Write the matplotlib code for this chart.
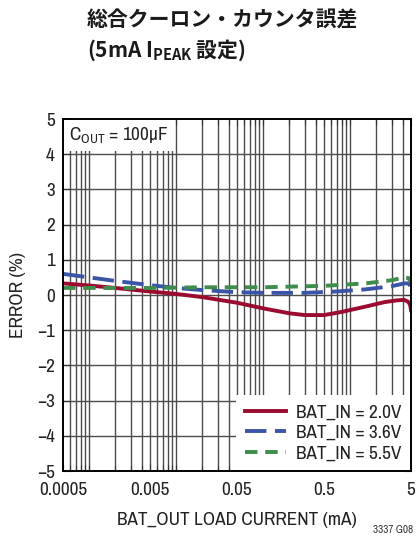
import matplotlib
matplotlib.use("Agg")
import matplotlib.pyplot as plt
from matplotlib import font_manager
from matplotlib.ticker import FixedLocator, NullFormatter, NullLocator

# ---- data ----
x_red = [0.0005, 0.001, 0.002, 0.005, 0.01, 0.02, 0.05, 0.1, 0.2, 0.3, 0.5, 0.8, 1.5, 2.5, 3.5, 4.2, 4.7, 4.9, 5.0]
y_red = [0.33, 0.27, 0.2, 0.1, 0.03, -0.06, -0.22, -0.38, -0.52, -0.57, -0.57, -0.48, -0.33, -0.2, -0.15, -0.14, -0.2, -0.3, -0.43]

x_blue = [0.0005, 0.001, 0.002, 0.005, 0.01, 0.02, 0.05, 0.1, 0.3, 0.7, 1.5, 3.0, 4.2, 4.7, 4.9, 5.0]
y_blue = [0.6, 0.5, 0.4, 0.28, 0.2, 0.14, 0.08, 0.06, 0.06, 0.1, 0.16, 0.25, 0.33, 0.33, 0.25, 0.1]

x_green = [0.0005, 0.001, 0.005, 0.02, 0.1, 0.5, 1.5, 3.0, 4.2, 4.7, 5.0]
y_green = [0.2, 0.2, 0.2, 0.22, 0.22, 0.26, 0.33, 0.42, 0.5, 0.48, 0.35]

series_labels = ["BAT_IN = 2.0V", "BAT_IN = 3.6V", "BAT_IN = 5.5V"]
x_ticks = [0.0005, 0.005, 0.05, 0.5, 5]
x_tick_labels = ["0.0005", "0.005", "0.05", "0.5", "5"]
y_ticks = [-5, -4, -3, -2, -1, 0, 1, 2, 3, 4, 5]
y_tick_labels = ["\u22125", "\u22124", "\u22123", "\u22122", "\u22121", "0", "1", "2", "3", "4", "5"]

# ---- font selection: prefer a condensed sans ----
narrow_fp = None
for f in font_manager.fontManager.ttflist:
    if "Narrow" in f.name and f.weight in (400, "normal", "regular") and f.style == "normal":
        narrow_fp = font_manager.FontProperties(fname=f.fname)
        break
if narrow_fp is None:
    for f in font_manager.fontManager.ttflist:
        if ("Condensed" in f.fname or "Condensed" in f.name) and "Bold" not in f.fname and "Oblique" not in f.fname and "Italic" not in f.fname:
            narrow_fp = font_manager.FontProperties(fname=f.fname)
            break
if narrow_fp is None:
    narrow_fp = font_manager.FontProperties(family="Liberation Sans")

FS = 13.8

def nf(size=FS):
    p = narrow_fp.copy()
    p.set_size(size)
    return p

cjk = ["Noto Sans CJK JP", "DejaVu Sans"]
RED = "#9b0b2f"
BLUE = "#3a55a8"
GREEN = "#3f8d4c"
GRID = "#4d4d4d"
TXT = "#222222"

fig = plt.figure(figsize=(4.19, 5.37), dpi=100)
ax = fig.add_axes([63/419, 1-471/537, (411-63)/419, (471-119)/537])

ax.set_xscale("log")
ax.set_xlim(0.0005, 5)
ax.set_ylim(-5, 5)

minor = []
for dec in [1e-4, 1e-3, 1e-2, 1e-1, 1]:
    for m in range(1, 10):
        v = m * dec
        if 0.0005 < v < 5:
            minor.append(v)
ax.xaxis.set_major_locator(FixedLocator(x_ticks))
ax.xaxis.set_minor_locator(FixedLocator(minor))
ax.xaxis.set_minor_formatter(NullFormatter())
ax.set_xticklabels(x_tick_labels)
ax.set_yticks(y_ticks)
ax.set_yticklabels(y_tick_labels)
ax.yaxis.set_minor_locator(NullLocator())
for lab in ax.get_xticklabels() + ax.get_yticklabels():
    lab.set_fontproperties(nf())
    lab.set_color(TXT)

for v in minor:
    ax.axvline(v, color=GRID, lw=1.0, zorder=1)
for v in y_ticks[1:-1]:
    ax.axhline(v, color=GRID, lw=1.0, zorder=1)

ax.tick_params(which="both", direction="in", top=True, right=True, length=4, width=0.8, colors="#333333", labelcolor=TXT)
ax.tick_params(which="major", length=5)
ax.tick_params(axis="x", which="major", pad=8)
ax.tick_params(axis="y", which="major", pad=6)
for s in ax.spines.values():
    s.set_linewidth(1.4)
    s.set_color("black")
    s.set_zorder(5)

ax.plot(x_red, y_red, color=RED, lw=2.8, zorder=4, label=series_labels[0])
ax.plot(x_blue, y_blue, color=BLUE, lw=2.8, dashes=(5.5, 2.2), zorder=4, label=series_labels[1])
ax.plot(x_green, y_green, color=GREEN, lw=2.8, dashes=(3.2, 2.0), zorder=4, label=series_labels[2])

leg = ax.legend(loc="lower right", frameon=True, fancybox=False, framealpha=1, edgecolor="white",
                prop=nf(), handlelength=2.1, handletextpad=0.55,
                borderpad=0.5, labelspacing=0.2, borderaxespad=0.0)
leg.set_zorder(3)
leg.get_frame().set_linewidth(0)
for t in leg.get_texts():
    t.set_color(TXT)

ax.text(0.018, 0.982, "C$_{\\mathregular{OUT}}$ = 100µF", transform=ax.transAxes, ha="left", va="top",
        fontproperties=nf(), color=TXT, zorder=3,
        bbox=dict(boxstyle="square,pad=0.3", fc="white", ec="none"))

ax.set_xlabel("BAT_OUT LOAD CURRENT (mA)", fontproperties=nf(), color=TXT, labelpad=10)
ax.set_ylabel("ERROR (%)", fontproperties=nf(), color=TXT, labelpad=8)

fig.text(87/419, 1-20/537, "総合クーロン・カウンタ誤差", ha="left", va="center",
         fontfamily=cjk, fontsize=15, fontweight="bold", color="#1a1a1a")
fig.text(87/419, 1-50/537, "(5mA I$_{\\mathregular{PEAK}}$ 設定)", ha="left", va="center",
         fontfamily=cjk, fontsize=15, fontweight="bold", color="#1a1a1a")
fig.text(413/419, 1-530/537, "3337 G08", ha="right", va="center", fontproperties=nf(8), color="#333333")

fig.savefig("out.png", dpi=100)
